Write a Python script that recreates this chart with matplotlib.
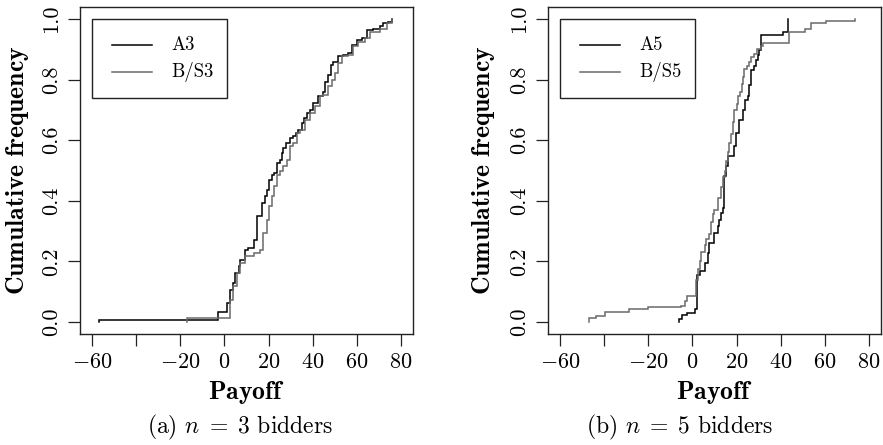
import numpy as np
import matplotlib
matplotlib.use("Agg")
import matplotlib.pyplot as plt
from matplotlib.patches import Rectangle
from matplotlib.lines import Line2D

plt.rcParams["font.family"] = "cmr10"
plt.rcParams["mathtext.fontset"] = "cm"
plt.rcParams["axes.unicode_minus"] = False

# Empirical CDF step points: payoff where each step occurs, and the level reached
a3_payoff = [-56.9, -3.0, 1.1, 2.6, 4.1, 4.8, 6.4, 7.1, 9.1, 10.9, 13.2, 14.7, 16.9,
             18.4, 19.2, 20.4, 21.5, 22.5, 23.7, 25.0, 26.0, 26.8, 27.8, 29.8, 31.3,
             32.5, 33.6, 35.1, 36.1, 37.4, 38.9, 40.4, 42.6, 44.9, 45.7, 47.2, 48.4,
             49.5, 51.7, 54.0, 56.3, 57.8, 60.0, 62.3, 64.6, 67.6, 70.6, 72.1, 74.4, 75.9]
a3_cum = [0.006, 0.033, 0.063, 0.107, 0.129, 0.162, 0.184, 0.206, 0.239, 0.244, 0.272,
          0.349, 0.393, 0.415, 0.437, 0.470, 0.486, 0.492, 0.525, 0.536, 0.558, 0.574,
          0.591, 0.607, 0.613, 0.624, 0.635, 0.657, 0.673, 0.690, 0.701, 0.723, 0.745,
          0.761, 0.794, 0.816, 0.849, 0.860, 0.877, 0.882, 0.888, 0.915, 0.932, 0.937,
          0.965, 0.967, 0.976, 0.987, 0.992, 1.0]

bs3_payoff = [-16.9, 2.6, 4.1, 5.6, 7.1, 9.4, 13.2, 16.2, 17.7, 19.2, 20.4, 21.5, 22.5,
              23.7, 25.3, 26.8, 28.3, 29.8, 31.3, 32.8, 34.3, 36.6, 38.9, 41.1, 43.4,
              44.9, 47.2, 48.7, 50.2, 51.7, 53.2, 56.3, 58.5, 60.8, 63.8, 66.1, 70.6,
              73.6, 75.9]
bs3_cum = [0.013, 0.074, 0.117, 0.162, 0.195, 0.217, 0.228, 0.239, 0.294, 0.338, 0.382,
           0.415, 0.448, 0.486, 0.497, 0.514, 0.536, 0.580, 0.591, 0.624, 0.635, 0.668,
           0.690, 0.712, 0.745, 0.751, 0.778, 0.800, 0.822, 0.855, 0.877, 0.882, 0.910,
           0.926, 0.937, 0.959, 0.969, 0.986, 1.0]

a5_payoff = [-6.2, -4.8, -2.5, 1.2, 1.9, 3.2, 5.5, 7.0, 7.7, 10.0, 11.5, 12.2, 13.0,
             13.8, 14.2, 15.3, 16.3, 18.7, 19.8, 21.3, 22.8, 23.9, 25.1, 25.9, 26.6,
             28.1, 28.9, 29.6, 30.4, 31.1, 41.0, 43.2]
a5_cum = [0.011, 0.022, 0.030, 0.041, 0.156, 0.167, 0.195, 0.228, 0.261, 0.294, 0.316,
          0.338, 0.360, 0.376, 0.481, 0.514, 0.547, 0.580, 0.624, 0.668, 0.701, 0.734,
          0.745, 0.783, 0.833, 0.844, 0.866, 0.882, 0.899, 0.948, 0.959, 1.0]

bs5_payoff = [-47.2, -43.7, -39.9, -28.9, -20.0, -5.4, -3.6, -2.7, 1.7, 2.4, 3.2, 4.0,
              5.5, 6.2, 7.7, 8.5, 9.2, 10.0, 11.5, 13.0, 13.8, 14.6, 15.3, 16.1, 16.8,
              17.4, 18.4, 19.0, 20.0, 20.7, 21.5, 22.3, 22.8, 23.5, 24.6, 25.5, 26.6,
              27.8, 29.5, 31.0, 32.1, 43.9, 51.0, 53.7, 60.8, 73.7]
bs5_cum = [0.013, 0.021, 0.033, 0.041, 0.050, 0.054, 0.068, 0.085, 0.14, 0.175, 0.20,
           0.23, 0.255, 0.275, 0.29, 0.33, 0.355, 0.37, 0.41, 0.445, 0.48, 0.50, 0.53,
           0.56, 0.59, 0.62, 0.66, 0.70, 0.72, 0.745, 0.76, 0.785, 0.81, 0.835, 0.845,
           0.86, 0.875, 0.885, 0.90, 0.91, 0.921, 0.956, 0.967, 0.987, 0.995, 1.0]

x_ticks = [-60, -40, -20, 0, 20, 40, 60, 80]
x_tick_labels = ["$-60$", "", "$-20$", "$0$", "$20$", "$40$", "$60$", "$80$"]
y_ticks = [0.0, 0.2, 0.4, 0.6, 0.8, 1.0]
y_tick_labels = ["0.0", "0.2", "0.4", "0.6", "0.8", "1.0"]

panels = [
    dict(rect=[0.0906, 0.2494, 0.3771, 0.7348], series=[
        ("A3", a3_payoff, a3_cum, "#000000"),
        ("B/S3", bs3_payoff, bs3_cum, "#6a6a6a")],
        caption=r"(a) $n \;=\; 3$ bidders", cap_x=0.272, ylab_x=0.0193),
    dict(rect=[0.6206, 0.2494, 0.3771, 0.7348], series=[
        ("A5", a5_payoff, a5_cum, "#000000"),
        ("B/S5", bs5_payoff, bs5_cum, "#6a6a6a")],
        caption=r"(b) $n \;=\; 5$ bidders", cap_x=0.770, ylab_x=0.548),
]

TICK_FS = 16
LEG_FS = 13.5
LAB_FS = 18.5
CAP_FS = 17

fig = plt.figure(figsize=(8.83, 4.45), dpi=100)

for p in panels:
    ax = fig.add_axes(p["rect"])
    for label, xs, ys, col in p["series"]:
        xs = np.asarray(xs, dtype=float)
        ys = np.asarray(ys, dtype=float)
        ax.step(np.r_[xs[0], xs], np.r_[0.0, ys], where="post",
                color=col, lw=1.1, solid_joinstyle="miter")
    ax.set_xlim(-65.6, 85.6)
    ax.set_ylim(-0.04, 1.04)
    ax.set_xticks(x_ticks)
    ax.set_xticklabels(x_tick_labels, fontsize=TICK_FS)
    ax.set_yticks(y_ticks)
    ax.set_yticklabels(y_tick_labels, fontsize=TICK_FS, rotation=90, va="center")
    ax.tick_params(axis="both", direction="out", length=8.5, width=0.9, color="#222222")
    ax.tick_params(axis="x", pad=5)
    ax.tick_params(axis="y", pad=5)
    for s in ax.spines.values():
        s.set_linewidth(1.0)
        s.set_color("#222222")

    # legend box
    ax.add_patch(Rectangle((0.037, 0.721), 0.4035, 0.241, transform=ax.transAxes,
                           fill=False, lw=1.0, ec="#222222", zorder=5))
    for i, (label, xs, ys, col) in enumerate(p["series"]):
        yy = [0.884, 0.802][i]
        ax.add_line(Line2D([0.095, 0.2153], [yy, yy], transform=ax.transAxes,
                           color=col, lw=1.1, zorder=6))
        ax.text(0.273, yy, label, transform=ax.transAxes, fontsize=LEG_FS,
                va="center", ha="left", zorder=6)

    fig.text(p["ylab_x"], 0.617, r"$\mathbf{Cumulative\ frequency}$", rotation=90,
             ha="center", va="center", fontsize=LAB_FS)
    cx = p["rect"][0] + p["rect"][2] / 2
    fig.text(cx, 0.117, r"$\mathbf{Payoff}$", ha="center", va="center", fontsize=LAB_FS)
    fig.text(p["cap_x"], 0.040, p["caption"], ha="center", va="center", fontsize=CAP_FS)

fig.savefig("out.png", dpi=100)
